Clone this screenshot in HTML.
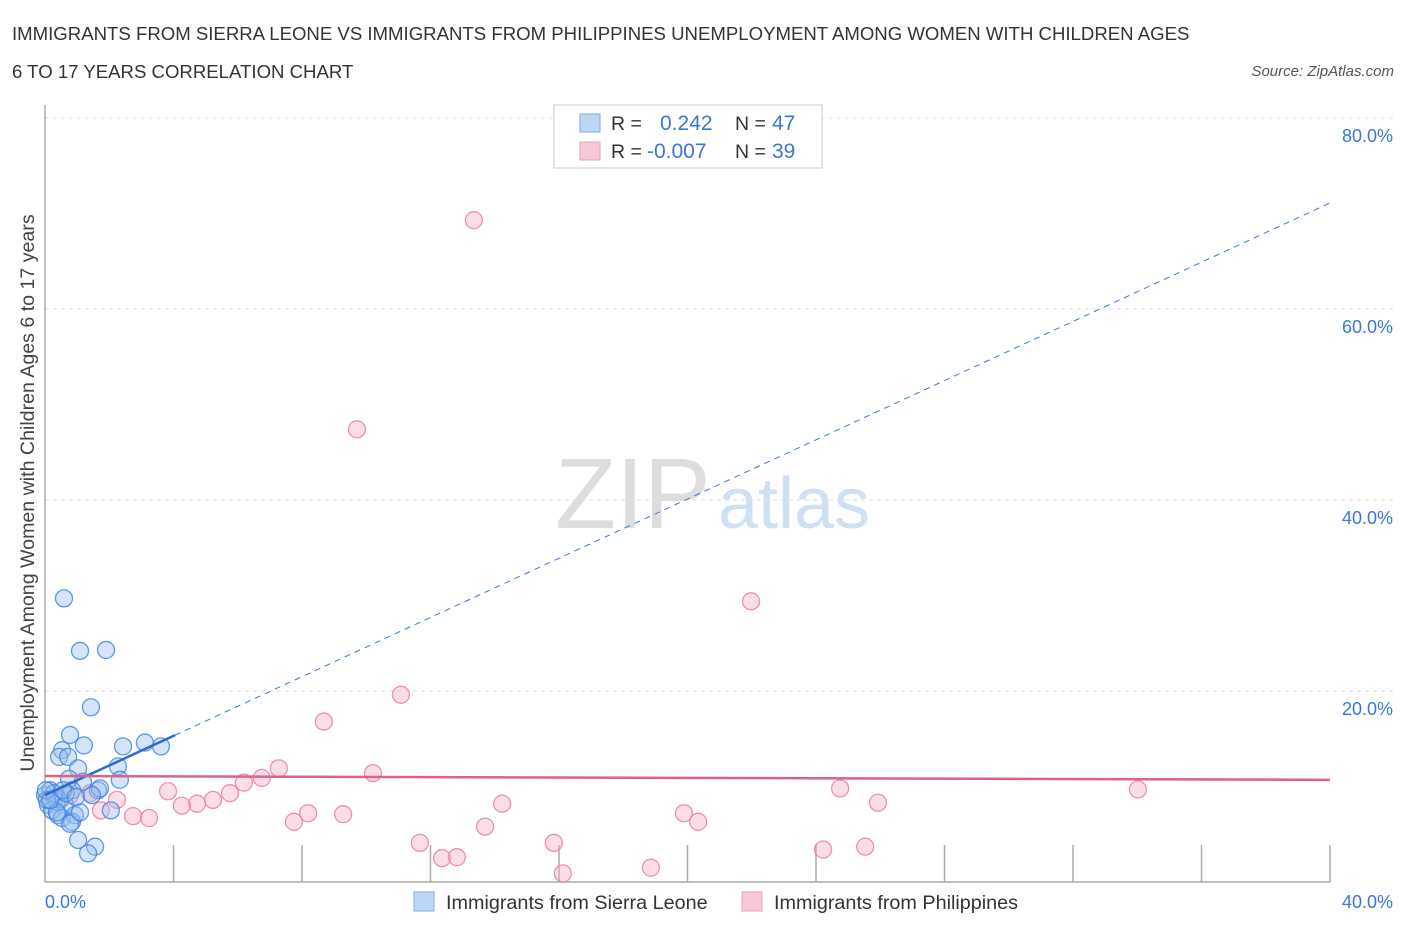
<!DOCTYPE html>
<html><head><meta charset="utf-8"><style>
body{margin:0;background:#fff;font-family:"Liberation Sans",sans-serif;}
svg text{font-family:"Liberation Sans",sans-serif;}
</style></head><body>
<svg id="chart" width="1406" height="930" xmlns="http://www.w3.org/2000/svg">
<text x="12" y="40" font-size="18.6" fill="#333">IMMIGRANTS FROM SIERRA LEONE VS IMMIGRANTS FROM PHILIPPINES UNEMPLOYMENT AMONG WOMEN WITH CHILDREN AGES</text>
<text x="12" y="78" font-size="18.6" fill="#333">6 TO 17 YEARS CORRELATION CHART</text>
<text x="1394" y="76" font-size="15" font-style="italic" fill="#555" text-anchor="end">Source: ZipAtlas.com</text>
<text x="555" y="528" font-size="100" font-family="Liberation Serif" fill="#ddd">ZIP</text>
<text x="718" y="528" font-size="72" fill="#cfe0f3">atlas</text>
<g id="grid"></g>
<g id="axes"></g>
<g id="marks"></g>
<text transform="translate(34,493) rotate(-90)" font-size="19.6" fill="#444" text-anchor="middle">Unemployment Among Women with Children Ages 6 to 17 years</text>
<text x="45" y="908" font-size="18" fill="#3a78d4">0.0%</text>
<text x="1393" y="908" font-size="18" fill="#3a78d4" text-anchor="end">40.0%</text>
<g>
<rect x="554" y="105" width="268" height="63" fill="#fff" stroke="#ccc"/>
<rect x="580" y="114" width="20" height="18" fill="#bcd6f5" stroke="#7fa9e0"/>
<rect x="580" y="142" width="20" height="18" fill="#f9c8d6" stroke="#e9a0b8"/>
<text x="611" y="130" font-size="19.5" fill="#333">R =</text>
<text x="660" y="130" font-size="21" fill="#3a78d4">0.242</text>
<text x="735" y="130" font-size="19.5" fill="#333">N =</text>
<text x="772" y="130" font-size="21" fill="#3a78d4">47</text>
<text x="611" y="158" font-size="19.5" fill="#333">R =</text>
<text x="647" y="158" font-size="21" fill="#3a78d4">-0.007</text>
<text x="735" y="158" font-size="19.5" fill="#333">N =</text>
<text x="772" y="158" font-size="21" fill="#3a78d4">39</text>
</g>
<g>
<rect x="414" y="892" width="20" height="19" fill="#bcd6f5" stroke="#7fa9e0"/>
<text x="446" y="909" font-size="19.8" fill="#333">Immigrants from Sierra Leone</text>
<rect x="742" y="892" width="20" height="19" fill="#f9c8d6" stroke="#e9a0b8"/>
<text x="774" y="909" font-size="19.8" fill="#333">Immigrants from Philippines</text>
</g>
</svg>
<script>
const blueX=[0.59,1.09,1.90,1.43,0.78,0.53,1.21,0.44,0.72,2.43,3.11,3.61,1.03,2.27,2.33,0.75,1.18,1.65,0.0,0.16,0.31,0.47,0.09,0.22,0.37,0.62,0.84,1.71,2.05,0.40,0.53,0.93,0.84,0.78,1.03,1.56,1.34,0.65,0.28,0.06,0.37,1.09,1.46,0.03,0.16,0.56,0.96];
const blueY=[29.7,24.2,24.3,18.3,15.4,13.8,14.3,13.1,13.1,14.2,14.6,14.2,11.9,12.1,10.7,10.8,10.5,9.6,9.1,9.6,8.8,8.6,8.1,7.5,8.4,8.1,9.6,9.8,7.5,7.0,6.7,7.0,6.3,6.1,4.4,3.7,3.0,9.3,9.3,8.6,7.3,7.3,9.1,9.6,8.6,9.6,8.9];
const pinkX=[13.35,9.71,21.98,11.08,8.68,10.21,7.28,6.75,6.19,5.76,3.83,5.23,4.73,4.26,2.24,1.74,2.74,3.24,7.75,8.19,9.28,14.23,13.70,11.67,12.36,12.82,15.84,16.12,18.86,19.89,20.33,24.22,24.75,25.53,25.93,34.02,0.47,0.78,1.40];
const pinkY=[69.3,47.4,29.4,19.6,16.8,11.4,11.9,10.9,10.4,9.3,9.5,8.6,8.2,8.0,8.6,7.5,6.9,6.7,6.3,7.2,7.1,8.2,5.8,4.1,2.5,2.6,4.1,0.9,1.5,7.2,6.3,3.4,9.8,3.7,8.3,9.7,8.6,9.1,9.3];
const yTicks=[20,40,60,80];
const yTickLabels=["20.0%","40.0%","60.0%","80.0%"];
const blueTrend=[9.1,71.1];
const pinkTrend=[11.1,10.7];
const blueSolidEnd=4.05;

const NS="http://www.w3.org/2000/svg";
const xs=v=>45+v*32.125;
const ys=v=>882-v*9.55;
function mk(tag,attrs,parent){const e=document.createElementNS(NS,tag);for(const k in attrs)e.setAttribute(k,attrs[k]);document.getElementById(parent).appendChild(e);return e;}
yTicks.forEach((t,i)=>{
  const l=mk('line',{x1:45,x2:1394,y1:ys(t),y2:ys(t),stroke:'#ddd','stroke-dasharray':'4,4'},'grid');
  
  
  const tx=mk('text',{x:1393,y:ys(t)+24,'font-size':18,fill:'#3a78d4','text-anchor':'end'},'grid');
  tx.textContent=yTickLabels[i];
  
  
});
const ya=mk('line',{x1:45,x2:45,y1:105,y2:882,stroke:'#aaa','stroke-width':1.5},'axes');


const xa=mk('line',{x1:45,x2:1330,y1:882,y2:882,stroke:'#aaa','stroke-width':1.5},'axes');


for(let i=1;i<=10;i++){
  const t=mk('line',{x1:xs(i*4),x2:xs(i*4),y1:845,y2:882,stroke:'#aaa','stroke-width':1.5},'axes');
  
  
}
function dot(x,y,fill,stroke){
  return mk('circle',{cx:xs(x),cy:ys(y),r:8.5,fill:fill,stroke:stroke,'stroke-width':1.3},'marks');
}
pinkX.forEach((x,i)=>{
  const c=dot(x,pinkY[i],'rgba(246,170,195,0.4)','rgba(232,120,160,0.8)');
  
  
});
blueX.forEach((x,i)=>{
  const c=dot(x,blueY[i],'rgba(150,190,240,0.4)','rgba(60,130,220,0.8)');
  
  
});
const by=x=>blueTrend[0]+(blueTrend[1]-blueTrend[0])*x/40;
const bd=mk('line',{x1:xs(0),y1:ys(by(0)),x2:xs(40),y2:ys(by(40)),stroke:'#3a78d4','stroke-width':1,'stroke-dasharray':'6,5'},'marks');


const bs=mk('line',{x1:xs(0),y1:ys(by(0)),x2:xs(blueSolidEnd),y2:ys(by(blueSolidEnd)),stroke:'#2a6ad0','stroke-width':2.5},'marks');


const pl=mk('line',{x1:xs(0),y1:ys(pinkTrend[0]),x2:xs(40),y2:ys(pinkTrend[1]),stroke:'#e0608a','stroke-width':2.5},'marks');


</script>
</body></html>
